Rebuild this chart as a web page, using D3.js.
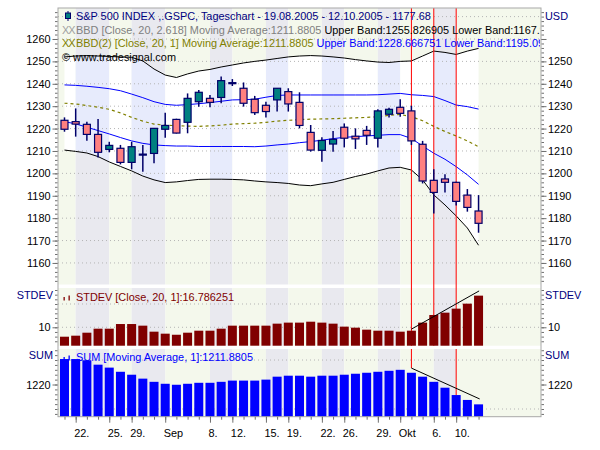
<!DOCTYPE html>
<html>
<head>
<meta charset="utf-8">
<script src="https://cdn.jsdelivr.net/npm/d3@7"></script>
<style>
  body {margin:0; background:#fff}
  text {font-family:"Liberation Sans", Arial, sans-serif; font-size:10.9px}
</style>
</head>
<body>
<div id="chart"></div>
<script>
// S&P 500 daily candles 19.08.2005 - 12.10.2005
var opens  = [1223.7,1223.1,1221.9,1217.4,1210.7,1211.2,1204.9,1208.6,1208.9,1219.7,1224.1,1222.8,1232.0,1233.5,1233.9,1240.5,1238.0,1233.1,1230.4,1232.8,1236.5,1231.7,1218.3,1210.3,1213.1,1220.6,1216.6,1219.2,1215.7,1226.4,1229.5,1227.9,1213.0,1196.9,1197.5,1196.0,1190.3,1183.2]
var highs  = [1225.0,1229.0,1223.1,1224.3,1214.1,1212.7,1214.1,1212.7,1220.3,1227.1,1224.4,1235.7,1237.2,1235.0,1243.2,1242.1,1240.6,1234.6,1232.0,1238.0,1238.0,1236.2,1221.6,1216.1,1218.9,1222.3,1220.1,1221.2,1228.6,1229.3,1233.1,1230.2,1214.5,1201.8,1199.6,1196.3,1193.0,1190.3]
var lows   = [1218.6,1216.4,1214.6,1207.1,1209.4,1204.0,1201.8,1200.7,1204.5,1215.9,1217.8,1217.9,1229.8,1229.5,1231.3,1239.0,1229.8,1226.1,1225.0,1227.6,1227.6,1220.1,1209.7,1205.2,1209.7,1211.6,1210.9,1212.7,1211.6,1225.0,1225.3,1212.7,1195.5,1182.1,1191.5,1185.6,1182.9,1173.5]
var closes = [1219.7,1222.0,1217.4,1209.4,1212.5,1204.9,1211.9,1208.6,1220.1,1221.4,1218.0,1233.5,1236.2,1231.7,1241.4,1240.5,1231.3,1227.1,1227.6,1238.0,1231.0,1221.4,1210.4,1214.7,1215.2,1215.7,1215.4,1217.0,1227.9,1228.6,1226.8,1214.5,1196.6,1191.5,1196.0,1187.5,1184.8,1177.7]

// Bollinger bands (20, 2.618) and (20, 1)
var bbUpper  = [1252.0,1252.4,1252.6,1252.4,1252.2,1252.0,1251.8,1250.2,1246.6,1243.9,1242.8,1244.4,1245.7,1246.4,1247.5,1248.4,1249.3,1250.0,1250.6,1251.3,1252.0,1252.4,1252.6,1252.4,1252.0,1251.5,1250.8,1250.2,1249.7,1249.5,1250.0,1250.2,1252.4,1254.6,1254.0,1253.1,1254.6,1255.8]
var bbLower  = [1210.4,1209.8,1209.1,1207.5,1205.1,1203.1,1201.1,1198.8,1197.1,1195.9,1196.2,1196.8,1197.3,1197.4,1197.4,1197.3,1197.1,1196.6,1196.2,1195.9,1195.5,1194.8,1194.5,1195.3,1196.0,1197.3,1198.6,1199.7,1201.1,1202.4,1202.7,1201.5,1197.1,1190.4,1185.9,1181.0,1175.6,1167.9]
var bbMid    = [1231.3,1231.0,1230.3,1229.5,1228.6,1227.0,1225.0,1223.3,1222.0,1221.5,1221.3,1221.1,1221.0,1221.2,1221.5,1222.0,1222.2,1222.4,1222.8,1223.3,1223.7,1224.0,1224.2,1224.3,1224.4,1224.6,1224.8,1225.0,1225.3,1225.9,1226.3,1225.3,1223.5,1221.0,1218.7,1216.7,1214.5,1211.9]
var bb1Upper = [1239.5,1239.3,1238.9,1238.4,1237.8,1236.9,1235.4,1233.8,1232.0,1230.8,1230.4,1230.7,1231.1,1231.6,1232.2,1232.8,1232.9,1233.1,1234.0,1234.8,1235.0,1235.0,1235.0,1235.0,1235.0,1235.0,1235.0,1235.0,1235.1,1235.4,1235.7,1235.1,1234.8,1234.3,1232.5,1230.5,1229.8,1228.7]
var bb1Lower = [1223.1,1222.1,1220.6,1219.1,1217.6,1216.0,1214.5,1213.4,1212.7,1212.4,1212.2,1212.2,1212.0,1212.0,1212.0,1212.0,1212.0,1211.9,1212.2,1212.7,1213.1,1213.7,1214.2,1214.8,1215.5,1216.1,1216.4,1216.7,1217.0,1217.3,1217.3,1215.6,1212.2,1209.0,1206.3,1203.0,1199.3,1195.1]

// lower panels
var stdevVals = [7.98,8.2,8.84,9.7,9.7,10.7,10.7,10.35,9.06,8.63,8.4,8.84,9.27,9.27,9.7,10.35,10.35,10.35,10.35,10.78,11.0,11.0,11.2,11.0,10.78,10.14,9.92,9.49,9.27,9.27,9.06,9.27,11.0,12.64,13.14,14.0,15.07,16.79]
var sumVals   = [1230.4,1230.4,1229.9,1228.1,1226.9,1225.2,1224.0,1222.4,1221.1,1220.3,1219.9,1220.3,1220.7,1220.7,1221.1,1221.6,1221.6,1221.6,1222.0,1223.2,1223.6,1223.6,1223.2,1223.6,1223.6,1224.0,1224.4,1224.8,1225.2,1225.6,1226.0,1224.8,1223.2,1221.1,1218.7,1215.7,1213.7,1211.9]

// drawn trend lines and marker lines: [bar index, value]
var stdevTrend = [[31, 9.6], [37.05, 17.8]]
var sumTrend   = [[31, 1226.7], [37.1, 1214.1]]
var markerIdx  = [31, 33, 35]
var sumMarkerEnds = [[31, 1226.7], [35, 1215.7]]

// x axis labels
var tickIdx    = [1, 4, 6, 9, 13, 15, 18, 20, 23, 25, 28, 30, 33, 35]
var tickLabels = ["22.", "25.", "29.", "Sep", "8.", "12.", "15.", "19.", "22.", "26.", "29.", "Okt", "6.", "10."]

var mainTicks  = [1160, 1170, 1180, 1190, 1200, 1210, 1220, 1230, 1240, 1250, 1260]
var mainGrid   = [1160, 1170, 1180, 1190, 1200, 1210, 1220, 1230, 1240, 1250, 1260, 1270]

var L = 58, R = 541
var panels = {main: [8, 284.5], st: [288, 345.7], sum: [349, 416.7]}

var GREEN = "#f4f8ec", GREY = "#e9e9ef", WHITE = "#ffffff", BLUE = "#e7ebfc"
var NAVY = "#000080", EDGE = "#00006a"

var svg = d3.select("#chart").append("svg").attr("width", 600).attr("height", 450)
svg.append("rect").attr("width", 600).attr("height", 450).attr("fill", "#fff")

var x = d3.scaleLinear().domain([-0.58, 42.58]).range([L, R])
var yMain = d3.scaleLinear().domain([1150.6, 1273.84]).range([284, 8])
var ySt = d3.scaleLinear().domain([6.05, 18.43]).range([panels.st[1], panels.st[0]])
var ySum = d3.scaleLinear().domain([1206.86, 1234.5]).range([panels.sum[1], panels.sum[0]])

function stripes(g, top, bot, c1, c2) {
  var xs = [L].concat(tickIdx.map(x), [R])
  g.selectAll(null).data(d3.range(xs.length - 1)).join("rect")
    .attr("x", j => xs[j]).attr("y", top)
    .attr("width", j => xs[j + 1] - xs[j]).attr("height", bot - top)
    .attr("fill", j => (j == 0 || (j - 1) % 2) ? c1 : c2)
}

var bg = svg.append("g")
Object.values(panels).forEach(p => stripes(bg, p[0], p[1], GREEN, GREY))

// area between the outer bands gets lighter stripes
var bandArea = d3.area().x((d, i) => x(i)).y0((d, i) => yMain(bbLower[i])).y1(d => yMain(d))
svg.append("clipPath").attr("id", "bandClip").append("path").attr("d", bandArea(bbUpper))
stripes(svg.append("g").attr("clip-path", "url(#bandClip)"), panels.main[0], panels.main[1], WHITE, BLUE)

function grid(scale, vals) {
  svg.append("g").selectAll("line").data(vals).join("line")
    .attr("x1", L).attr("x2", R).attr("y1", d => scale(d)).attr("y2", d => scale(d))
    .attr("stroke", "#b4b4b4").attr("stroke-dasharray", "1,3")
}
grid(yMain, mainGrid)
grid(ySt, [10, 15])
grid(ySum, [1210, 1230])

// bands
var line = arr => d3.line().x((d, i) => x(i)).y(d => yMain(d))(arr)
svg.append("path").attr("d", line(bbUpper)).attr("fill", "none").attr("stroke", "#000")
svg.append("path").attr("d", line(bbLower)).attr("fill", "none").attr("stroke", "#000")
svg.append("path").attr("d", line(bb1Upper)).attr("fill", "none").attr("stroke", "#0000ff")
svg.append("path").attr("d", line(bb1Lower)).attr("fill", "none").attr("stroke", "#0000ff")
svg.append("path").attr("d", line(bbMid)).attr("fill", "none").attr("stroke", "#808000")
  .attr("stroke-width", 1.2).attr("stroke-dasharray", "3,3")

// marker lines
svg.append("g").selectAll("line").data(markerIdx).join("line")
  .attr("x1", d => x(d)).attr("x2", d => x(d)).attr("y1", panels.main[0]).attr("y2", panels.st[1])
  .attr("stroke", "#ff0000")
svg.append("g").selectAll("line").data(sumMarkerEnds).join("line")
  .attr("x1", d => x(d[0])).attr("x2", d => x(d[0])).attr("y1", panels.sum[0]).attr("y2", d => ySum(d[1]))
  .attr("stroke", "#ff0000")

// candles
var idx = d3.range(closes.length)
var cg = svg.append("g")
cg.selectAll("line").data(idx).join("line")
  .attr("x1", i => x(i)).attr("x2", i => x(i))
  .attr("y1", i => yMain(highs[i])).attr("y2", i => yMain(lows[i]))
  .attr("stroke", EDGE).attr("stroke-width", 1.5)
cg.selectAll("rect").data(idx).join("rect")
  .attr("x", i => x(i) - 3.5).attr("width", 7)
  .attr("y", i => yMain(Math.max(opens[i], closes[i])))
  .attr("height", i => Math.max(1, Math.abs(yMain(opens[i]) - yMain(closes[i]))))
  .attr("fill", i => closes[i] > opens[i] ? "#008080" : closes[i] < opens[i] ? "#ff8080" : EDGE)
  .attr("stroke", EDGE).attr("stroke-width", 1.2)

// stdev and sum histograms
svg.append("g").selectAll("rect").data(stdevVals).join("rect")
  .attr("x", (d, i) => x(i) - 4.5).attr("width", 9)
  .attr("y", d => ySt(d)).attr("height", d => panels.st[1] - ySt(d))
  .attr("fill", "#800000")
svg.append("g").selectAll("rect").data(sumVals).join("rect")
  .attr("x", (d, i) => x(i) - 4.5).attr("width", 9)
  .attr("y", d => ySum(d)).attr("height", d => panels.sum[1] - ySum(d))
  .attr("fill", "#0000ff")

svg.append("path").attr("d", d3.line().x(d => x(d[0])).y(d => ySt(d[1]))(stdevTrend))
  .attr("stroke", "#000").attr("fill", "none")
svg.append("path").attr("d", d3.line().x(d => x(d[0])).y(d => ySum(d[1]))(sumTrend))
  .attr("stroke", "#000").attr("fill", "none")

// frame
svg.append("rect").attr("x", L).attr("y", 8).attr("width", R - L).attr("height", panels.sum[1] - 8)
  .attr("fill", "none").attr("stroke", "#a8a8a8")

// y axes
function yAxis(scale, side, majors, labels, minors) {
  var ax = side == "left" ? d3.axisLeft : d3.axisRight
  var x0 = side == "left" ? L - 0.5 : R + 0.5
  var g1 = svg.append("g").attr("transform", "translate(" + x0 + ",0)")
    .call(ax(scale).tickValues(minors).tickSize(2.5).tickFormat(""))
  var g2 = svg.append("g").attr("transform", "translate(" + x0 + ",0)")
    .call(ax(scale).tickValues(majors).tickSize(5).tickPadding(side == "left" ? 2 : 1.5)
      .tickFormat(d => labels.indexOf(d) >= 0 ? d : ""))
  ;[g1, g2].forEach(g => {
    g.select(".domain").remove()
    g.attr("color", "#707070")
    g.selectAll("text").attr("fill", "#000")
  })
}
yAxis(yMain, "left", mainTicks, mainTicks, d3.range(1152, 1274, 2))
yAxis(yMain, "right", mainTicks, mainTicks.slice(0, 10), d3.range(1152, 1274, 2))
yAxis(ySt, "left", [10], [10], d3.range(7, 19, 1))
yAxis(ySt, "right", [10], [10], d3.range(7, 19, 1))
yAxis(ySum, "left", [1220], [1220], d3.range(1208, 1235, 2))
yAxis(ySum, "right", [1220], [1220], d3.range(1208, 1235, 2))

// x axis
var gx1 = svg.append("g").attr("transform", "translate(0," + panels.sum[1] + ")")
  .call(d3.axisBottom(x).tickValues(idx).tickSize(3).tickFormat(""))
var gx2 = svg.append("g").attr("transform", "translate(0," + panels.sum[1] + ")")
  .call(d3.axisBottom(x).tickValues(tickIdx).tickSize(6).tickPadding(7).tickFormat((d, k) => tickLabels[k]))
;[gx1, gx2].forEach(g => {g.select(".domain").remove(); g.attr("color", "#707070")})
gx2.selectAll("text").attr("fill", "#000").attr("text-anchor", "start").attr("dx", -2)

// panel names
function label(txt, xx, yy, anchor) {
  svg.append("text").attr("x", xx).attr("y", yy).attr("text-anchor", anchor).attr("fill", NAVY).text(txt)
}
label("USD", 545, 20, "start")
label("STDEV", 53, 299, "end")
label("STDEV", 545, 299, "start")
label("SUM", 53, 359, "end")
label("SUM", 545, 359, "start")

// legends
svg.append("clipPath").attr("id", "legClip").append("rect").attr("x", L).attr("y", 0).attr("width", 482).attr("height", 450)
var lg = svg.append("g").attr("clip-path", "url(#legClip)")

lg.append("line").attr("x1", 68).attr("x2", 68).attr("y1", 11).attr("y2", 21).attr("stroke", EDGE)
lg.append("rect").attr("x", 65.5).attr("y", 13).attr("width", 5).attr("height", 5.5).attr("fill", "#008080").attr("stroke", EDGE)
lg.append("text").attr("x", 76).attr("y", 20).attr("fill", NAVY)
  .text("S&P 500 INDEX ,.GSPC, Tageschart - 19.08.2005 - 12.10.2005 - 1177.68")

function legendRow(yy, parts, iconColor) {
  lg.append("text").attr("x", 62).attr("y", yy).attr("fill", iconColor).attr("letter-spacing", -1)
    .attr("font-weight", 100).text("XX")
  var t = lg.append("text").attr("x", 76).attr("y", yy)
  parts.forEach(p => t.append("tspan").attr("fill", p[1]).text(p[0]))
}
legendRow(33.5, [["BBD [Close, 20, 2.618] Moving Average:1211.8805", "#808080"],
                 [" Upper Band:1255.826905 Lower Band:1167.934095", "#000"]], "#a0a0a0")
legendRow(47, [["BBD(2) [Close, 20, 1] Moving Average:1211.8805", "#808000"],
               [" Upper Band:1228.666751 Lower Band:1195.094249", "#0000ff"]], "#808000")
lg.append("text").attr("x", 62).attr("y", 60.5).attr("fill", "#000").text("\u00a9 www.tradesignal.com")

// small histogram icons
function barIcon(yy, color) {
  lg.append("rect").attr("x", 63.5).attr("y", yy - 3.5).attr("width", 1.3).attr("height", 3.5).attr("fill", color)
  lg.append("rect").attr("x", 68.5).attr("y", yy - 5).attr("width", 1.3).attr("height", 5).attr("fill", color)
}
barIcon(300.5, "#800000")
lg.append("text").attr("x", 76).attr("y", 300.5).attr("fill", "#800000").text("STDEV [Close, 20, 1]:16.786251")
barIcon(360.5, "#0000ff")
lg.append("text").attr("x", 76).attr("y", 360.5).attr("fill", "#0000ff").text("SUM [Moving Average, 1]:1211.8805")
</script>
</body>
</html>
